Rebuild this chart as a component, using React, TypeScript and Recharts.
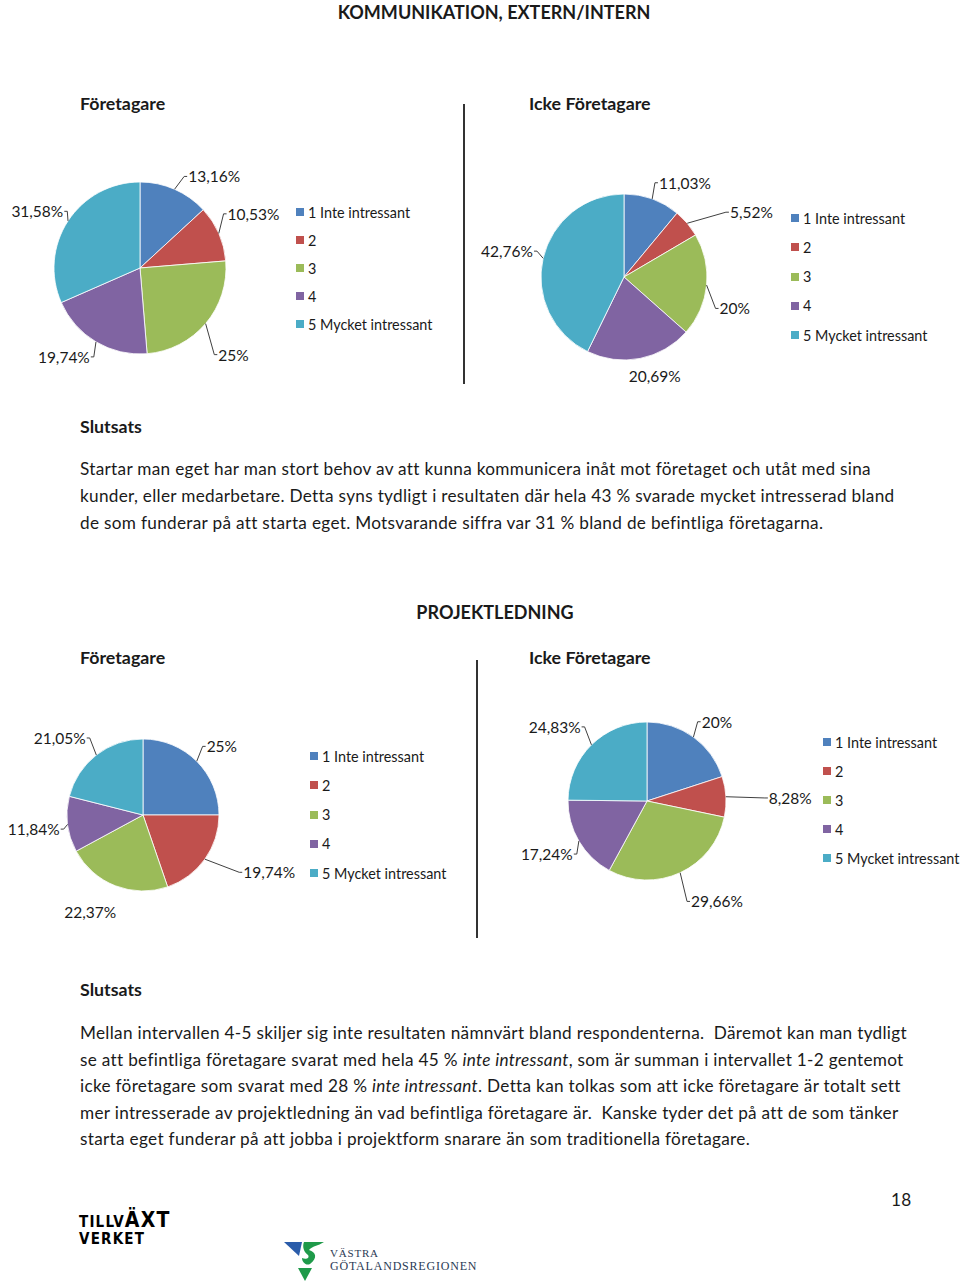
import React from 'react'
import { PieChart, Pie, Cell, Legend } from 'recharts'

const CATEGORIES = ['1 Inte intressant', '2', '3', '4', '5 Mycket intressant']
const COLORS = ['#4F81BD', '#C0504D', '#9BBB59', '#8064A2', '#4BACC6']

// percentages per answer 1..5
const komForetagare = [13.16, 10.53, 25, 19.74, 31.58]
const komIckeForetagare = [11.03, 5.52, 20, 20.69, 42.76]
const projForetagare = [25, 19.74, 22.37, 11.84, 21.05]
const projIckeForetagare = [20, 8.28, 29.66, 17.24, 24.83]

const FONT = 'Lato, "Open Sans", sans-serif'
const TEXT = '#1a1a1a'

const toRows = (values: number[]) => CATEGORIES.map((name, i) => ({ name, value: values[i] }))
const fmt = (v: number) => String(v).replace('.', ',') + '%'

type Nudge = [number, number, boolean?]

// label placement tweaks (px) from the default spot just outside each slice
const nudgesKomF: Nudge[] = [[4, 0], [-8, -14], [-2, 22], [5, 3], [11, -2]]
const nudgesKomI: Nudge[] = [[-2, -3], [28, -2], [-5, 22], [12, 4, true], [7.5, -4]]
const nudgesProjF: Nudge[] = [[-4, -5], [23, 5], [-20, 13, true], [10, 3], [2, -6]]
const nudgesProjI: Nudge[] = [[-4, -4], [25, 2], [1, 16], [10, 6], [3, -8]]

const makeLabel = (nudges: Nudge[]) => (props: any) => {
  const { cx, cy, midAngle, outerRadius, index, value } = props
  const rad = Math.PI / 180
  const cos = Math.cos(-midAngle * rad)
  const sin = Math.sin(-midAngle * rad)
  const [nx, ny, noLine] = nudges[index]
  const px = cx + outerRadius * cos
  const py = cy + outerRadius * sin
  const ex = cx + (outerRadius + 14) * cos + nx
  const ey = cy + (outerRadius + 14) * sin + ny
  if (noLine) {
    return (
      <text x={ex} y={ey} textAnchor="middle" dominantBaseline="central" fill={TEXT} fontSize={15.5} fontFamily={FONT}>
        {fmt(value)}
      </text>
    )
  }
  const side = cos >= 0 ? 1 : -1
  return (
    <g>
      <polyline
        points={`${px},${py} ${ex},${ey} ${ex + side * 3},${ey}`}
        fill="none"
        stroke="#404040"
        strokeWidth={1}
      />
      <text
        x={ex + side * 4}
        y={ey}
        textAnchor={side > 0 ? 'start' : 'end'}
        dominantBaseline="central"
        fill={TEXT}
        fontSize={15.5}
        fontFamily={FONT}
      >
        {fmt(value)}
      </text>
    </g>
  )
}

function LegendList({ payload, rowH }: { payload?: any[]; rowH: number }) {
  return (
    <div style={{ fontFamily: FONT, fontSize: 14.4, color: TEXT }}>
      {(payload || []).map((p) => (
        <div key={p.value} style={{ display: 'flex', alignItems: 'center', height: rowH, whiteSpace: 'nowrap' }}>
          <span style={{ width: 8, height: 8, background: p.color, marginRight: 4, display: 'inline-block' }} />
          <span>{p.value}</span>
        </div>
      ))}
    </div>
  )
}

interface ChartProps {
  values: number[]
  nudges: Nudge[]
  left: number
  top: number
  width: number
  height: number
  cx: number
  cy: number
  r: number
  legendLeft: number
  legendTop: number
  rowH: number
}

function SurveyPie(p: ChartProps) {
  return (
    <div style={{ position: 'absolute', left: p.left, top: p.top }}>
      <PieChart width={p.width} height={p.height} margin={{ top: 0, right: 0, bottom: 0, left: 0 }}>
        <Pie
          data={toRows(p.values)}
          dataKey="value"
          nameKey="name"
          cx={p.cx}
          cy={p.cy}
          outerRadius={p.r}
          startAngle={90}
          endAngle={-270}
          stroke="#ffffff"
          strokeWidth={0.8}
          label={makeLabel(p.nudges)}
          labelLine={false}
          isAnimationActive={false}
        >
          {p.values.map((_, i) => (
            <Cell key={i} fill={COLORS[i]} />
          ))}
        </Pie>
        <Legend
          layout="vertical"
          align="right"
          verticalAlign="top"
          wrapperStyle={{ left: p.legendLeft, top: p.legendTop, width: 170 }}
          content={(props: any) => <LegendList payload={props.payload} rowH={p.rowH} />}
        />
      </PieChart>
    </div>
  )
}

const abs = (left: number, top: number, extra: React.CSSProperties = {}): React.CSSProperties => ({
  position: 'absolute',
  left,
  top,
  whiteSpace: 'pre',
  ...extra,
})

const para1 = [
  'Startar man eget har man stort behov av att kunna kommunicera inåt mot företaget och utåt med sina',
  'kunder, eller medarbetare. Detta syns tydligt i resultaten där hela 43 % svarade mycket intresserad bland',
  'de som funderar på att starta eget. Motsvarande siffra var 31 % bland de befintliga företagarna.',
]

export default function App() {
  const heading: React.CSSProperties = { fontWeight: 700, fontSize: 17.8, lineHeight: '20px' }
  const body: React.CSSProperties = { fontSize: 17.2, letterSpacing: 0.3, lineHeight: '20px' }
  return (
    <div
      style={{
        position: 'absolute',
        left: 0,
        top: 0,
        width: 960,
        height: 1285,
        background: '#ffffff',
        fontFamily: FONT,
        color: TEXT,
        overflow: 'hidden',
      }}
    >
      <div style={abs(0, 2, { ...heading, width: 988, textAlign: 'center', fontSize: 18 })}>KOMMUNIKATION, EXTERN/INTERN</div>
      <div style={abs(80, 93, heading)}>Företagare</div>
      <div style={abs(529, 93, heading)}>Icke Företagare</div>
      <div style={abs(463, 104, { width: 2, height: 280, background: '#333' })} />

      <SurveyPie values={komForetagare} nudges={nudgesKomF} left={0} top={140} width={460} height={250}
        cx={140} cy={128} r={86} legendLeft={296} legendTop={58} rowH={28} />
      <SurveyPie values={komIckeForetagare} nudges={nudgesKomI} left={470} top={140} width={490} height={260}
        cx={154} cy={137} r={83} legendLeft={321} legendTop={63.5} rowH={29.25} />

      <div style={abs(80, 416, heading)}>Slutsats</div>
      {para1.map((t, i) => (
        <div key={i} style={abs(80, 459 + i * 27, body)}>{t}</div>
      ))}

      <div style={abs(0, 602, { ...heading, width: 990, textAlign: 'center', fontSize: 18 })}>PROJEKTLEDNING</div>
      <div style={abs(80, 647, heading)}>Företagare</div>
      <div style={abs(529, 647, heading)}>Icke Företagare</div>
      <div style={abs(476, 660, { width: 2, height: 278, background: '#333' })} />

      <SurveyPie values={projForetagare} nudges={nudgesProjF} left={0} top={700} width={470} height={230}
        cx={143} cy={115} r={76} legendLeft={310} legendTop={41.5} rowH={29.25} />
      <SurveyPie values={projIckeForetagare} nudges={nudgesProjI} left={490} top={690} width={470} height={230}
        cx={157} cy={111} r={79} legendLeft={333} legendTop={37.5} rowH={29} />

      <div style={abs(80, 979, heading)}>Slutsats</div>
      <div style={abs(80, 1023, body)}>Mellan intervallen 4-5 skiljer sig inte resultaten nämnvärt bland respondenterna.  Däremot kan man tydligt</div>
      <div style={abs(80, 1049.5, body)}>
        {'se att befintliga företagare svarat med hela 45 % '}<i>inte intressant</i>{', som är summan i intervallet 1-2 gentemot'}
      </div>
      <div style={abs(80, 1076, body)}>
        {'icke företagare som svarat med 28 % '}<i>inte intressant</i>{'. Detta kan tolkas som att icke företagare är totalt sett'}
      </div>
      <div style={abs(80, 1102.5, body)}>mer intresserade av projektledning än vad befintliga företagare är.  Kanske tyder det på att de som tänker</div>
      <div style={abs(80, 1129, body)}>starta eget funderar på att jobba i projektform snarare än som traditionella företagare.</div>

      <div style={abs(891, 1190, body)}>18</div>

      {/* Tillväxtverket */}
      <div style={abs(79, 1212, { fontFamily: '"DejaVu Sans Condensed", "DejaVu Sans", sans-serif', fontWeight: 900, fontSize: 15, letterSpacing: 1.2, lineHeight: '17px', color: '#000' })}>
        <div>TILLV<span style={{ fontSize: 21 }}>ÄXT</span></div>
        <div>VERKET</div>
      </div>

      {/* Västra Götalandsregionen */}
      <svg style={{ position: 'absolute', left: 282, top: 1238 }} width={200} height={46}>
        <polygon points="2,4 20,4 17,18" fill="#2a5caa" />
        <path d="M22,4 L42,4 C36,8 30,8 27,12 C34,14 36,20 28,26 C24,28 20,24 20,20 C24,22 28,20 26,17 C22,14 20,9 22,4 Z" fill="#1f9a4a" />
        <polygon points="16,30 30,30 23,43" fill="#1f9a4a" />
        <text x={48} y={19} fontFamily='"Liberation Serif", serif' fontSize={11} letterSpacing={0.8} fill="#2b3a55">VÄSTRA</text>
        <text x={48} y={32} fontFamily='"Liberation Serif", serif' fontSize={12} letterSpacing={0.8} fill="#2b3a55">GÖTALANDSREGIONEN</text>
      </svg>
    </div>
  )
}
